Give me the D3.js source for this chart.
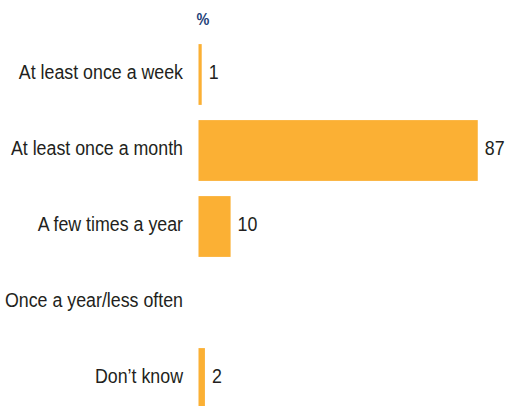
<!DOCTYPE html>
<html>
<head>
<meta charset="utf-8">
<script src="https://cdn.jsdelivr.net/npm/d3@7"></script>
<style>
  html, body { margin: 0; padding: 0; background: #fff; }
  svg { display: block; }
  text { font-family: "Liberation Sans", Arial, sans-serif; }
</style>
</head>
<body>
<svg id="chart" width="506" height="406"></svg>
<script>
// Survey responses: how often, share of respondents (%)
const categories = [
  "At least once a week",
  "At least once a month",
  "A few times a year",
  "Once a year/less often",
  "Don\u2019t know"
];
const values = [1, 87, 10, null, 2];
const unitLabel = "%";

const svg = d3.select("#chart");
const x0 = 198.5;
const x = d3.scaleLinear().domain([0, 100]).range([x0, x0 + 321]);
const y = d3.scaleBand()
  .domain(categories)
  .range([36.5, 416.5])
  .paddingInner(0.2)
  .paddingOuter(0.1);

// Narrow type: glyphs are squeezed horizontally
const squeeze = 0.89;
const fontSize = 20;

const data = categories.map((c, i) => ({ c, v: values[i] }));

// Unit heading above the bars
svg.append("text")
  .attr("transform", `translate(${x0 + 4.5},25) scale(0.85,1)`)
  .attr("text-anchor", "middle")
  .attr("fill", "#1d3f78")
  .attr("font-weight", "bold")
  .attr("font-size", 17)
  .text(unitLabel);

// Category labels
svg.selectAll("text.cat")
  .data(data)
  .join("text")
  .attr("class", "cat")
  .attr("transform", d => `translate(183,${y(d.c) + y.bandwidth() / 2}) scale(${squeeze},1)`)
  .attr("dy", "0.23em")
  .attr("text-anchor", "end")
  .attr("fill", "#231f20")
  .attr("font-size", fontSize)
  .text(d => d.c);

// Bars
svg.selectAll("rect.bar")
  .data(data.filter(d => d.v != null))
  .join("rect")
  .attr("class", "bar")
  .attr("x", x(0))
  .attr("y", d => y(d.c))
  .attr("width", d => x(d.v) - x(0))
  .attr("height", y.bandwidth())
  .attr("fill", "#fbb034");

// Value labels
svg.selectAll("text.val")
  .data(data.filter(d => d.v != null))
  .join("text")
  .attr("class", "val")
  .attr("transform", d => `translate(${x(d.v) + 7},${y(d.c) + y.bandwidth() / 2}) scale(${squeeze},1)`)
  .attr("dy", "0.23em")
  .attr("fill", "#231f20")
  .attr("font-size", fontSize)
  .text(d => d.v);
</script>
</body>
</html>
